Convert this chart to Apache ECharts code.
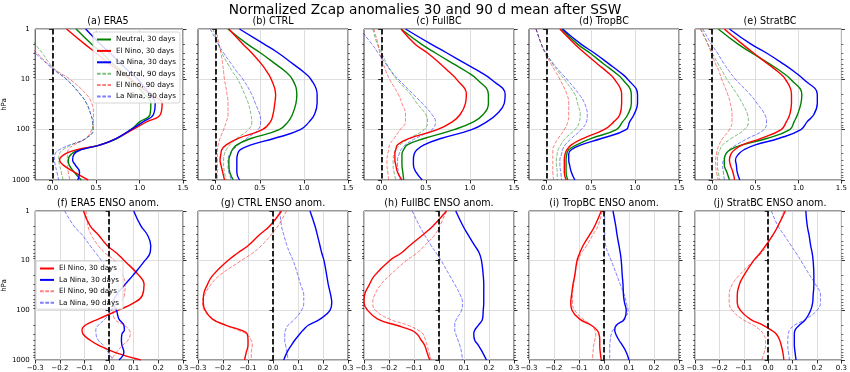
<!DOCTYPE html>
<html><head><meta charset="utf-8">
<script src="https://cdn.jsdelivr.net/npm/echarts@6/dist/echarts.min.js"></script>
<style>html,body{margin:0;padding:0;background:#fff}#c{width:850px;height:372px}</style>
</head><body><div id="c"></div>
<script>
// pressure levels (hPa)
const levels = [1,2,3,5,7,10,20,30,50,70,100,150,200,250,300,400,500,700,1000];
const topXTicks = [0, 0.5, 1.0, 1.5];
const bottomXTicks = [-0.3,-0.2,-0.1,0,0.1,0.2,0.3];
const yMajor = [1,10,100,1000];
const yMinor = [2,3,4,5,6,7,8,9,20,30,40,50,60,70,80,90,200,300,400,500,600,700,800,900];

// (a) ERA5
const a_neu30  = [0.27,0.45,0.57,0.70,0.80,0.90,1.06,1.13,1.12,1.00,0.90,0.74,0.55,0.32,0.22,0.18,0.19,0.25,0.33];
const a_nino30 = [0.16,0.37,0.50,0.66,0.78,0.90,1.12,1.26,1.24,1.08,0.92,0.73,0.55,0.28,0.15,0.08,0.12,0.25,0.41];
const a_nina30 = [0.38,0.55,0.66,0.79,0.88,0.98,1.12,1.18,1.16,1.04,0.90,0.73,0.55,0.33,0.25,0.23,0.26,0.31,0.29];
const a_neu90  = [-0.33,-0.20,-0.12,-0.03,0.05,0.16,0.32,0.39,0.44,0.46,0.46,0.38,0.22,0.12,0.08,0.07,0.08,0.10,0.12];
const a_nino90 = [-0.40,-0.28,-0.18,-0.05,0.06,0.20,0.39,0.45,0.47,0.47,0.45,0.38,0.25,0.18,0.17,0.17,0.17,0.18,0.20];
const a_nina90 = [-0.42,-0.30,-0.20,-0.06,0.04,0.16,0.32,0.39,0.44,0.46,0.47,0.38,0.20,0.08,0.03,0.02,0.03,0.05,0.07];
// (b) CTRL
const b_neu30  = [0.14,0.36,0.51,0.68,0.79,0.87,0.92,0.91,0.87,0.82,0.72,0.40,0.24,0.19,0.17,0.15,0.15,0.16,0.20];
const b_nino30 = [0.15,0.31,0.41,0.52,0.58,0.63,0.68,0.67,0.65,0.62,0.53,0.25,0.12,0.07,0.06,0.05,0.06,0.08,0.10];
const b_nina30 = [0.27,0.55,0.71,0.88,0.99,1.08,1.15,1.15,1.12,1.06,0.96,0.66,0.40,0.28,0.25,0.24,0.24,0.24,0.27];
const b_neu90  = [-0.03,0.03,0.07,0.14,0.19,0.25,0.33,0.37,0.40,0.41,0.37,0.24,0.16,0.12,0.10,0.09,0.09,0.10,0.12];
const b_nino90 = [0.00,0.04,0.06,0.08,0.09,0.10,0.13,0.14,0.14,0.12,0.09,0.05,0.03,0.02,0.02,0.02,0.02,0.02,0.02];
const b_nina90 = [-0.06,0.03,0.09,0.18,0.24,0.31,0.41,0.45,0.50,0.51,0.48,0.35,0.26,0.20,0.16,0.14,0.14,0.15,0.18];
// (c) FullBC
const c_neu30  = [0.22,0.45,0.61,0.82,0.96,1.08,1.21,1.21,1.15,1.04,0.82,0.48,0.29,0.25,0.23,0.23,0.23,0.24,0.25];
const c_nino30 = [0.22,0.38,0.52,0.67,0.76,0.85,0.96,0.95,0.89,0.80,0.63,0.31,0.18,0.16,0.15,0.15,0.16,0.18,0.23];
const c_nina30 = [0.27,0.56,0.74,0.96,1.11,1.24,1.40,1.39,1.30,1.19,1.02,0.67,0.48,0.40,0.37,0.36,0.36,0.39,0.46];
const c_neu90  = [-0.10,-0.05,0.00,0.06,0.11,0.17,0.33,0.40,0.50,0.52,0.48,0.31,0.21,0.16,0.14,0.13,0.13,0.14,0.16];
const c_nino90 = [-0.09,-0.04,-0.02,0.02,0.05,0.09,0.19,0.23,0.27,0.27,0.21,0.14,0.09,0.08,0.07,0.06,0.06,0.07,0.08];
const c_nina90 = [-0.25,-0.11,-0.04,0.05,0.11,0.19,0.36,0.46,0.57,0.61,0.57,0.38,0.27,0.22,0.20,0.18,0.18,0.19,0.21];
// (d) TropBC
const d_neu30  = [0.17,0.35,0.49,0.65,0.76,0.86,0.96,0.96,0.92,0.86,0.79,0.50,0.34,0.25,0.23,0.22,0.22,0.22,0.24];
const d_nino30 = [0.15,0.32,0.43,0.58,0.68,0.77,0.85,0.85,0.83,0.76,0.65,0.41,0.28,0.23,0.21,0.20,0.20,0.20,0.22];
const d_nina30 = [0.18,0.39,0.54,0.71,0.82,0.92,1.03,1.03,0.99,0.94,0.90,0.62,0.39,0.28,0.25,0.25,0.26,0.28,0.32];
const d_neu90  = [-0.12,-0.06,-0.01,0.07,0.13,0.20,0.32,0.35,0.38,0.37,0.32,0.21,0.16,0.13,0.12,0.11,0.11,0.12,0.12];
const d_nino90 = [-0.12,-0.06,-0.02,0.05,0.10,0.15,0.23,0.25,0.25,0.24,0.20,0.13,0.09,0.07,0.07,0.07,0.07,0.07,0.08];
const d_nina90 = [-0.12,-0.06,-0.01,0.08,0.15,0.23,0.37,0.43,0.46,0.45,0.39,0.28,0.21,0.18,0.17,0.15,0.15,0.16,0.17];
// (e) StratBC
const e_neu30  = [0.07,0.30,0.46,0.67,0.80,0.91,1.04,1.03,0.99,0.95,0.90,0.63,0.35,0.21,0.16,0.14,0.14,0.17,0.20];
const e_nino30 = [0.14,0.35,0.48,0.65,0.76,0.85,0.92,0.92,0.90,0.86,0.80,0.56,0.35,0.26,0.22,0.20,0.21,0.24,0.26];
const e_nina30 = [0.20,0.45,0.63,0.83,0.95,1.06,1.22,1.22,1.18,1.10,1.03,0.77,0.50,0.37,0.31,0.27,0.28,0.29,0.32];
const e_neu90  = [-0.13,-0.05,0.00,0.07,0.12,0.17,0.29,0.35,0.41,0.42,0.37,0.22,0.12,0.09,0.07,0.06,0.06,0.07,0.09];
const e_nino90 = [-0.14,-0.05,-0.01,0.04,0.08,0.11,0.18,0.21,0.23,0.23,0.20,0.12,0.08,0.06,0.05,0.04,0.04,0.05,0.07];
const e_nina90 = [-0.11,-0.01,0.06,0.14,0.20,0.27,0.44,0.52,0.61,0.63,0.60,0.41,0.28,0.20,0.16,0.13,0.12,0.13,0.14];
// (f) ERA5 ENSO anom.
const f_nino30 = [-0.104,-0.077,-0.044,-0.007,0.03,0.062,0.122,0.142,0.135,0.102,0.036,-0.044,-0.097,-0.11,-0.106,-0.077,-0.044,0.023,0.129];
const f_nina30 = [0.10,0.129,0.155,0.169,0.166,0.145,0.096,0.065,0.029,0.016,0.03,0.04,0.06,0.062,0.052,0.05,0.052,0.06,0.04];
const f_nino90 = [-0.094,-0.086,-0.073,-0.044,-0.017,0.023,0.056,0.065,0.062,0.042,0.016,0.023,0.062,0.082,0.086,0.076,0.056,0.029,0.009];
const f_nina90 = [-0.18,-0.143,-0.11,-0.077,-0.054,-0.03,0.023,0.036,0.039,0.029,0.009,-0.017,-0.044,-0.054,-0.053,-0.044,-0.024,-0.004,0.016];
// (g) CTRL ENSO anom.
const g_nino30 = [0.034,-0.013,-0.054,-0.10,-0.141,-0.181,-0.242,-0.262,-0.278,-0.279,-0.271,-0.242,-0.188,-0.128,-0.103,-0.10,-0.10,-0.107,-0.114];
const g_nina30 = [0.148,0.168,0.177,0.188,0.195,0.204,0.215,0.221,0.231,0.235,0.228,0.188,0.141,0.121,0.107,0.087,0.074,0.056,0.043];
const g_nino90 = [0.054,0.02,-0.007,-0.047,-0.081,-0.128,-0.215,-0.248,-0.275,-0.282,-0.275,-0.242,-0.188,-0.141,-0.107,-0.087,-0.083,-0.087,-0.087];
const g_nina90 = [0.027,0.034,0.043,0.056,0.067,0.081,0.10,0.11,0.123,0.123,0.114,0.087,0.06,0.05,0.047,0.047,0.05,0.056,0.06];
// (h) FullBC ENSO anom.
const h_nino30 = [0.03,-0.024,-0.064,-0.118,-0.151,-0.198,-0.258,-0.278,-0.298,-0.30,-0.285,-0.245,-0.17,-0.111,-0.088,-0.071,-0.058,-0.048,-0.037];
const h_nina30 = [0.067,0.096,0.116,0.143,0.161,0.17,0.177,0.179,0.179,0.179,0.177,0.174,0.157,0.143,0.139,0.143,0.157,0.174,0.19];
const h_nino90 = [0.03,0.003,-0.017,-0.058,-0.088,-0.131,-0.198,-0.232,-0.258,-0.265,-0.254,-0.198,-0.124,-0.084,-0.064,-0.054,-0.048,-0.04,-0.031];
const h_nina90 = [-0.107,-0.078,-0.058,-0.031,-0.011,0.009,0.043,0.063,0.086,0.094,0.09,0.07,0.063,0.063,0.067,0.076,0.083,0.09,0.094];
// (i) TropBC ENSO anom.
const i_nino30 = [-0.011,-0.037,-0.057,-0.084,-0.097,-0.108,-0.117,-0.124,-0.13,-0.133,-0.128,-0.097,-0.051,-0.028,-0.02,-0.017,-0.017,-0.015,-0.011];
const i_nina30 = [0.036,0.047,0.052,0.06,0.065,0.069,0.073,0.076,0.078,0.082,0.089,0.082,0.049,0.043,0.047,0.06,0.073,0.089,0.10];
const i_nino90 = [-0.007,-0.024,-0.044,-0.07,-0.09,-0.104,-0.117,-0.121,-0.126,-0.126,-0.117,-0.084,-0.051,-0.037,-0.033,-0.037,-0.041,-0.044,-0.047];
const i_nina90 = [0.003,0.003,0.003,0.007,0.016,0.029,0.052,0.065,0.082,0.089,0.096,0.078,0.052,0.036,0.029,0.025,0.023,0.023,0.023];
// (j) StratBC ENSO anom.
const j_nino30 = [0.07,0.04,0.02,-0.011,-0.033,-0.06,-0.10,-0.118,-0.127,-0.127,-0.114,-0.074,-0.02,0.013,0.033,0.047,0.053,0.06,0.064];
const j_nina30 = [0.154,0.16,0.167,0.174,0.18,0.184,0.187,0.187,0.184,0.182,0.174,0.154,0.127,0.11,0.107,0.107,0.107,0.11,0.114];
const j_nino90 = [0.064,0.04,0.02,-0.007,-0.027,-0.06,-0.12,-0.147,-0.16,-0.16,-0.147,-0.107,-0.06,-0.033,-0.02,-0.011,-0.011,-0.016,-0.027];
const j_nina90 = [0.013,0.04,0.064,0.094,0.114,0.134,0.171,0.194,0.214,0.214,0.20,0.154,0.107,0.087,0.083,0.08,0.08,0.083,0.087];

const N30='Neutral, 30 days', E30='El Nino, 30 days', L30='La Nina, 30 days';
const N90='Neutral, 90 days', E90='El Nino, 90 days', L90='La Nina, 90 days';

const panels = [
  {title:'(a) ERA5', row:0, col:0, lines:[[N30,a_neu30],[E30,a_nino30],[L30,a_nina30],[N90,a_neu90],[E90,a_nino90],[L90,a_nina90]]},
  {title:'(b) CTRL', row:0, col:1, lines:[[N30,b_neu30],[E30,b_nino30],[L30,b_nina30],[N90,b_neu90],[E90,b_nino90],[L90,b_nina90]]},
  {title:'(c) FullBC', row:0, col:2, lines:[[N30,c_neu30],[E30,c_nino30],[L30,c_nina30],[N90,c_neu90],[E90,c_nino90],[L90,c_nina90]]},
  {title:'(d) TropBC', row:0, col:3, lines:[[N30,d_neu30],[E30,d_nino30],[L30,d_nina30],[N90,d_neu90],[E90,d_nino90],[L90,d_nina90]]},
  {title:'(e) StratBC', row:0, col:4, lines:[[N30,e_neu30],[E30,e_nino30],[L30,e_nina30],[N90,e_neu90],[E90,e_nino90],[L90,e_nina90]]},
  {title:'(f) ERA5 ENSO anom.', row:1, col:0, lines:[[E30,f_nino30],[L30,f_nina30],[E90,f_nino90],[L90,f_nina90]]},
  {title:'(g) CTRL ENSO anom.', row:1, col:1, lines:[[E30,g_nino30],[L30,g_nina30],[E90,g_nino90],[L90,g_nina90]]},
  {title:'(h) FullBC ENSO anom.', row:1, col:2, lines:[[E30,h_nino30],[L30,h_nina30],[E90,h_nino90],[L90,h_nina90]]},
  {title:'(i) TropBC ENSO anom.', row:1, col:3, lines:[[E30,i_nino30],[L30,i_nina30],[E90,i_nino90],[L90,i_nina90]]},
  {title:'(j) StratBC ENSO anom.', row:1, col:4, lines:[[E30,j_nino30],[L30,j_nina30],[E90,j_nino90],[L90,j_nina90]]}
];

const FONT = 'DejaVu Sans';
const styles = {};
styles[N30] = {color:'#008000', type:'solid', width:1.4, opacity:1};
styles[E30] = {color:'#ff0000', type:'solid', width:1.4, opacity:1};
styles[L30] = {color:'#0000ff', type:'solid', width:1.4, opacity:1};
styles[N90] = {color:'#008000', type:[3.7,1.6], width:1, opacity:0.5};
styles[E90] = {color:'#ff0000', type:[3.7,1.6], width:1, opacity:0.5};
styles[L90] = {color:'#0000ff', type:[3.7,1.6], width:1, opacity:0.5};

const panelLeft = [33,198,364,529,695];
const rowTop = [29,211];
const PW = 150, PH = 151;
const GRIDC = '#d6d6d6';

const grids=[], xAxes=[], yAxes=[], series=[], graphics=[];
const fmtX = v => { const s = (Math.abs(v) < 1e-9 ? 0 : v).toFixed(1); return s.replace('-', '\u2212'); };

graphics.push({type:'text', left:'center', top:3, style:{text:'Normalized Zcap anomalies 30 and 90 d mean after SSW', font:'13.7px "DejaVu Sans"', fill:'#000'}});

panels.forEach((p,i)=>{
  const left = panelLeft[p.col], top = rowTop[p.row];
  const isTop = p.row === 0;
  grids.push({left:left, top:top, width:PW, height:PH, show:true, borderColor:'#000', borderWidth:0.8, backgroundColor:'transparent'});
  graphics.push({type:'text', x:left+PW/2, y:top-3, style:{text:p.title, font:'9.6px "DejaVu Sans"', fill:'#000', align:'center', verticalAlign:'bottom'}});
  const xt = isTop ? topXTicks : bottomXTicks;
  xAxes.push({
    type:'value', gridIndex:i, min: isTop ? -0.2 : -0.3, max: isTop ? 1.5 : 0.3,
    axisLine:{show:false},
    axisTick:{show:true, length:3.5, customValues:xt, lineStyle:{color:'#000', width:0.8}},
    axisLabel:{show:true, customValues:xt, formatter:fmtX, fontSize:7, fontFamily:FONT, color:'#000', margin:5, showMinLabel:true, showMaxLabel:true},
    splitLine:{show:true, lineStyle:{color:GRIDC, width:0.8}}
  });
  const base = {type:'log', logBase:10, gridIndex:i, min:1, max:1000, inverse:true, axisLine:{show:false}};
  yAxes.push(Object.assign({}, base, {
    position:'left',
    name: p.col === 0 ? 'hPa' : '', nameLocation:'middle', nameGap:25, nameRotate:90,
    nameTextStyle:{fontSize:7, fontFamily:FONT, color:'#000'},
    axisTick:{show:true, length:3.5, customValues:yMajor, lineStyle:{color:'#000', width:0.8}},
    axisLabel:{show: p.col === 0, customValues:yMajor, fontSize:7, fontFamily:FONT, color:'#000', margin:5.5, formatter: v => String(Math.round(v))},
    splitLine:{show:true, lineStyle:{color:GRIDC, width:0.8}}
  }));
  yAxes.push(Object.assign({}, base, {
    position:'left',
    axisTick:{show:true, length:2, customValues:yMinor, lineStyle:{color:'#000', width:0.6}},
    axisLabel:{show:false, customValues:yMinor}, splitLine:{show:false}
  }));
  yAxes.push(Object.assign({}, base, {
    position:'right',
    axisTick:{show:true, length:3.5, customValues:yMajor, lineStyle:{color:'#000', width:0.8}},
    axisLabel:{show:false, customValues:yMajor}, splitLine:{show:false}
  }));
  yAxes.push(Object.assign({}, base, {
    position:'right',
    axisTick:{show:true, length:2, customValues:yMinor, lineStyle:{color:'#000', width:0.6}},
    axisLabel:{show:false, customValues:yMinor}, splitLine:{show:false}
  }));
  p.lines.forEach(([name, vals], k)=>{
    const st = styles[name];
    const s = {
      type:'line', name:name, xAxisIndex:i, yAxisIndex:4*i,
      data: levels.map((lev, j) => [vals[j], lev]),
      showSymbol:false, symbol:'none', smooth:0.45, clip:true,
      lineStyle:{color:st.color, width:st.width, type:st.type, opacity:st.opacity},
      itemStyle:{color:st.color, opacity:st.opacity},
      z: k < 3 ? 3 : 2, silent:true
    };
    if (k === 0) {
      s.markLine = {silent:true, symbol:['none','none'], label:{show:false}, animation:false,
        lineStyle:{color:'#000', width:1.7, type:[5.5,2.5], opacity:1}, data:[{xAxis:0}]};
    }
    series.push(s);
  });
});

const legendCommon = {orient:'vertical', itemWidth:14, itemHeight:7, itemGap:4.4,
  itemStyle:{opacity:0, borderWidth:0},
  textStyle:{fontSize:7.2, fontFamily:FONT, color:'#000'},
  backgroundColor:'rgba(255,255,255,0.85)', borderColor:'#cccccc', borderWidth:0.8, borderRadius:2,
  padding:[4,4,3,3], selectedMode:false};

const option = {
  animation:false,
  backgroundColor:'#fff',
  grid:grids, xAxis:xAxes, yAxis:yAxes, series:series,
  legend:[
    Object.assign({}, legendCommon, {left:93, top:32, data:[N30,E30,L30,N90,E90,L90]}),
    Object.assign({}, legendCommon, {left:36, top:261, data:[E30,L30,E90,L90]})
  ],
  graphic:graphics
};
const chart = echarts.init(document.getElementById('c'), null, {renderer:'canvas'});
chart.setOption(option);
</script></body></html>
